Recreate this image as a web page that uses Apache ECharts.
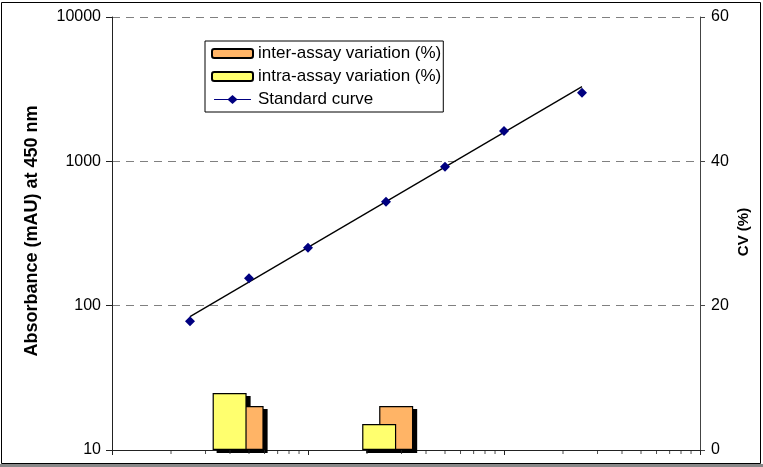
<!DOCTYPE html>
<html><head><meta charset="utf-8">
<script src="https://cdn.jsdelivr.net/npm/echarts@6/dist/echarts.min.js"></script>
<style>html,body{margin:0;padding:0;background:#fff}#c{width:763px;height:467px}</style>
</head><body><div id="c"></div>
<script>
// Standard curve (x: concentration, log scale; y: absorbance mAU, log scale)
const concentrations = [0.25, 0.5, 1, 2.5, 5, 10, 25];
const absorbance = [78, 155, 252, 525, 919, 1625, 2990];
// fitted curve end points
const fitX = [0.25, 25];
const fitY = [84, 3295];
// CV bars (right axis), placed at two control levels on the x axis
const cvGroupX = [0.44, 2.55];
const interAssayCV = [6.1, 6.1];
const intraAssayCV = [7.9, 3.6];
// tick values
const yLeftTicks = [10, 100, 1000, 10000];
const yRightTicks = [0, 20, 40, 60];
const xMinorTickValues = [0.2,0.3,0.4,0.5,0.6,0.7,0.8,0.9,2,3,4,5,6,7,8,9,20,30,40,50,60,70,80,90];

const FONT = 'Liberation Sans, Arial, sans-serif';
const BAR_W = 34;
const chart = echarts.init(document.getElementById('c'), null, {renderer: 'canvas'});

const lineDiamondIcon = 'path://M0,4.5L15.5,4.5L20.5,0L25.5,4.5L41,4.5L41,5.5L25.5,5.5L20.5,10L15.5,5.5L0,5.5Z';

// drop shadows of the CV bars (drawn behind all bars, as in the original)
function renderShadow(params, api) {
  const x = api.value(0);
  const base = api.coord([x, 0]);
  const cx = base[0];
  const yIntra = api.coord([x, api.value(1)])[1];
  const yInter = api.coord([x, api.value(2)])[1];
  const dx = 4, dy = 3;
  const half = BAR_W / 2, off = BAR_W / 4;
  return {
    type: 'group',
    children: [
      {type: 'rect', shape: {x: cx - off - half + dx, y: yIntra + dy, width: BAR_W, height: base[1] - yIntra}, style: {fill: '#000'}},
      {type: 'rect', shape: {x: cx + off - half + dx, y: yInter + dy, width: BAR_W, height: base[1] - yInter}, style: {fill: '#000'}}
    ]
  };
}

chart.setOption({
  animation: false,
  backgroundColor: '#fff',
  grid: {left: 112, right: 63, top: 17, bottom: 17, containLabel: false},
  xAxis: [{
    type: 'log', logBase: 10, min: 0.1, max: 100,
    axisLine: {show: true, lineStyle: {color: '#222', width: 1}},
    axisTick: {show: true, length: 5, lineStyle: {color: '#222'}},
    axisLabel: {show: false},
    splitLine: {show: false}
  }],
  yAxis: [{
    type: 'log', logBase: 10, min: yLeftTicks[0], max: yLeftTicks[yLeftTicks.length - 1],
    position: 'left',
    axisLine: {show: true, lineStyle: {color: '#222', width: 1}},
    axisTick: {show: true, length: 6, lineStyle: {color: '#222'}},
    axisLabel: {color: '#000', fontSize: 16, fontFamily: FONT, margin: 11, formatter: v => String(Math.round(v))},
    splitLine: {show: true, showMinLine: false, lineStyle: {color: '#808080', type: [8, 6], width: 1}}
  }, {
    type: 'value', min: yRightTicks[0], max: yRightTicks[yRightTicks.length - 1], interval: 20,
    position: 'right',
    axisLine: {show: true, lineStyle: {color: '#444', width: 1}},
    axisTick: {show: true, length: 5, lineStyle: {color: '#444'}},
    axisLabel: {color: '#000', fontSize: 16, fontFamily: FONT, margin: 11, formatter: v => String(v)},
    splitLine: {show: false}
  }],
  legend: {
    orient: 'vertical', left: 205, top: 41,
    padding: [4, 2, 4, 6], itemGap: 6, itemWidth: 41, itemHeight: 9,
    borderColor: '#000', borderWidth: 1, backgroundColor: '#fff',
    textStyle: {fontSize: 17, fontFamily: FONT, color: '#000'},
    data: [
      'inter-assay variation (%)',
      'intra-assay variation (%)',
      {name: 'Standard curve', icon: lineDiamondIcon, itemStyle: {color: '#000080', borderWidth: 0}}
    ]
  },
  graphic: [
    {type: 'rect', z: 100, silent: true, shape: {x: 1.5, y: 2.5, width: 759, height: 461}, style: {fill: 'none', stroke: '#000', lineWidth: 1}},
    {type: 'line', z: 100, silent: true, shape: {x1: 0, y1: 465.5, x2: 763, y2: 465.5}, style: {stroke: '#888', lineWidth: 3}},
    {type: 'text', z: 100, x: 32, y: 231, rotation: Math.PI / 2,
     style: {text: 'Absorbance (mAU) at 450 nm', font: 'bold 18px ' + FONT, fill: '#000', textAlign: 'center', textVerticalAlign: 'middle'}},
    {type: 'text', z: 100, x: 744, y: 232, rotation: Math.PI / 2,
     style: {text: 'CV (%)', font: 'bold 15px ' + FONT, fill: '#000', textAlign: 'center', textVerticalAlign: 'middle'}}
  ],
  series: [
    {
      name: 'barShadow', type: 'custom', xAxisIndex: 0, yAxisIndex: 1, z: 2, silent: true,
      renderItem: renderShadow,
      encode: {x: 0, y: [1, 2]},
      data: cvGroupX.map((x, i) => [x, intraAssayCV[i], interAssayCV[i]])
    },
    {
      name: 'intra-assay variation (%)', type: 'bar', xAxisIndex: 0, yAxisIndex: 1,
      barWidth: BAR_W, barGap: '-50%', z: 4,
      itemStyle: {color: '#FFFF6E', borderColor: '#000', borderWidth: 1.2},
      data: cvGroupX.map((x, i) => [x, intraAssayCV[i]])
    },
    {
      name: 'inter-assay variation (%)', type: 'bar', xAxisIndex: 0, yAxisIndex: 1,
      barWidth: BAR_W, barGap: '-50%', z: 3,
      itemStyle: {color: '#FFB466', borderColor: '#000', borderWidth: 1.2},
      data: cvGroupX.map((x, i) => [x, interAssayCV[i]])
    },
    {
      name: 'fit', type: 'line', xAxisIndex: 0, yAxisIndex: 0, z: 5,
      symbol: 'none', lineStyle: {color: '#000', width: 1.3}, silent: true,
      data: fitX.map((x, i) => [x, fitY[i]])
    },
    {
      name: 'Standard curve', type: 'line', xAxisIndex: 0, yAxisIndex: 0, z: 6,
      symbol: 'diamond', symbolSize: 10, showSymbol: true,
      itemStyle: {color: '#000080'},
      lineStyle: {color: '#000080', opacity: 0},
      data: concentrations.map((x, i) => [x, absorbance[i]])
    },
    {
      name: 'xMinorTicks', type: 'scatter', xAxisIndex: 0, yAxisIndex: 0, z: 7,
      symbol: 'rect', symbolSize: [1, 4], symbolOffset: [0, 2], clip: false, silent: true,
      itemStyle: {color: '#222'},
      data: xMinorTickValues.map(v => [v, yLeftTicks[0]])
    }
  ]
});
</script></body></html>
